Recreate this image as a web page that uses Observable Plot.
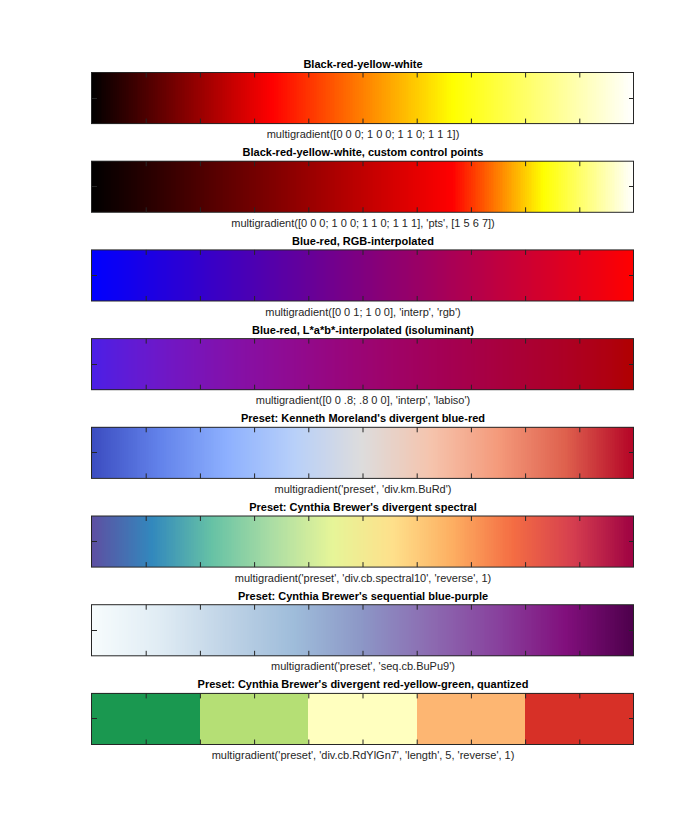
<!DOCTYPE html>
<html>
<head>
<meta charset="utf-8">
<script src="https://cdn.jsdelivr.net/npm/d3@7"></script>
<script src="https://cdn.jsdelivr.net/npm/@observablehq/plot@0.6"></script>
<style>
  html, body { margin: 0; padding: 0; background: #fff; }
</style>
</head>
<body>
<div id="chart"></div>
<script>
// ---- Data -------------------------------------------------------------
const titles = [
  "Black-red-yellow-white",
  "Black-red-yellow-white, custom control points",
  "Blue-red, RGB-interpolated",
  "Blue-red, L*a*b*-interpolated (isoluminant)",
  "Preset: Kenneth Moreland's divergent blue-red",
  "Preset: Cynthia Brewer's divergent spectral",
  "Preset: Cynthia Brewer's sequential blue-purple",
  "Preset: Cynthia Brewer's divergent red-yellow-green, quantized"
];
const captions = [
  "multigradient([0 0 0; 1 0 0; 1 1 0; 1 1 1])",
  "multigradient([0 0 0; 1 0 0; 1 1 0; 1 1 1], 'pts', [1 5 6 7])",
  "multigradient([0 0 1; 1 0 0], 'interp', 'rgb')",
  "multigradient([0 0 .8; .8 0 0], 'interp', 'labiso')",
  "multigradient('preset', 'div.km.BuRd')",
  "multigradient('preset', 'div.cb.spectral10', 'reverse', 1)",
  "multigradient('preset', 'seq.cb.BuPu9')",
  "multigradient('preset', 'div.cb.RdYlGn7', 'length', 5, 'reverse', 1)"
];

const colorsBRYW = ["#000000", "#ff0000", "#ffff00", "#ffffff"];
const ptsEven4 = [1, 2, 3, 4];
const ptsCustom = [1, 5, 6, 7];
const colorsBlueRed = ["#0000ff", "#ff0000"];
const colorsLabIso = ["#4a1fe6", "#b00000"];
const colorsMoreland = ["#3b4cc0", "#6282ea", "#8db0fe", "#b8d0f9", "#dddcdc",
                        "#f5c4ad", "#f49a7b", "#de604d", "#b40426"];
const colorsSpectral10 = ["#9e0142", "#d53e4f", "#f46d43", "#fdae61", "#fee08b",
                          "#e6f598", "#abdda4", "#66c2a5", "#3288bd", "#5e4fa2"];
const colorsBuPu9 = ["#f7fcfd", "#e0ecf4", "#bfd3e6", "#9ebcda", "#8c96c6",
                     "#8c6bb1", "#88419d", "#810f7c", "#4d004b"];
const colorsRdYlGnQ5 = ["#1a9850", "#b5df75", "#ffffbf", "#fdb672", "#d73027"];

const tickValues = [0.1, 0.2, 0.3, 0.4, 0.5, 0.6, 0.7, 0.8, 0.9];

// ---- Gradient specs built from the arrays -------------------------------
const specs = [
  {colors: colorsBRYW, pts: ptsEven4, interp: "rgb"},
  {colors: colorsBRYW, pts: ptsCustom, interp: "rgb"},
  {colors: colorsBlueRed, interp: "rgb"},
  {colors: colorsLabIso, interp: "lab"},
  {colors: colorsMoreland, interp: "rgb"},
  {colors: colorsSpectral10.slice().reverse(), interp: "rgb"},
  {colors: colorsBuPu9, interp: "rgb"},
  {colors: colorsRdYlGnQ5, quantized: true}
];

function makeInterp(colors, pts, mode) {
  const n = colors.length;
  const p = pts || d3.range(n).map(i => i + 1);
  const lo = p[0], hi = p[n - 1];
  const pos = p.map(v => (v - lo) / (hi - lo));
  const f = mode === "lab" ? d3.interpolateLab : d3.interpolateRgb;
  return t => {
    let k = 0;
    while (k < n - 2 && t > pos[k + 1]) k++;
    const u = (t - pos[k]) / (pos[k + 1] - pos[k]);
    return d3.color(f(colors[k], colors[k + 1])(Math.max(0, Math.min(1, u)))).formatHex();
  };
}

const N = 300;
const slices = [];
specs.forEach((s, j) => {
  if (s.quantized) {
    const m = s.colors.length;
    s.colors.forEach((c, i) => slices.push({title: titles[j], x1: i / m, x2: (i + 1) / m, color: c}));
  } else {
    const f = makeInterp(s.colors, s.pts, s.interp);
    for (let i = 0; i < N; i++) {
      slices.push({title: titles[j], x1: i / N, x2: Math.min(1, (i + 1.6) / N), color: f((i + 0.5) / N)});
    }
  }
});

const panelRows = titles.map((t, j) => ({title: t, caption: captions[j]}));
const tickRows = titles.flatMap(t => tickValues.map(v => ({title: t, t: v})));

// ---- Layout -------------------------------------------------------------
const W = 700, H = 840;
const mL = 91.5, mR = 66.5, mT = 72.5, mB = 95.5;
const padInner = 0.424;
const step = (H - mT - mB) / (titles.length - padInner);
const bw = step * (1 - padInner);
const tickLen = 5;
const tickFrac = tickLen / (W - mL - mR);
const ink = "#262626";
const font = "'Liberation Sans', Arial, Helvetica, sans-serif";

const chart = Plot.plot({
  width: W,
  height: H,
  marginLeft: mL,
  marginRight: mR,
  marginTop: mT,
  marginBottom: mB,
  style: {background: "#fff", fontFamily: font},
  x: {domain: [0, 1], axis: null},
  y: {domain: titles, axis: null, paddingInner: padInner, paddingOuter: 0, round: false},
  marks: [
    Plot.barX(slices, {x1: "x1", x2: "x2", y: "title", fill: "color", shapeRendering: "crispEdges"}),
    // inward ticks at top and bottom
    Plot.tickX(tickRows, {x: "t", y: "title", stroke: ink, strokeWidth: 1, insetBottom: bw - tickLen}),
    Plot.tickX(tickRows, {x: "t", y: "title", stroke: ink, strokeWidth: 1, insetTop: bw - tickLen}),
    // inward ticks at left and right middle
    Plot.barX(panelRows, {x1: 0, x2: tickFrac, y: "title", fill: ink,
      insetTop: (bw - 1) / 2, insetBottom: (bw - 1) / 2, shapeRendering: "crispEdges"}),
    Plot.barX(panelRows, {x1: 1 - tickFrac, x2: 1, y: "title", fill: ink,
      insetTop: (bw - 1) / 2, insetBottom: (bw - 1) / 2, shapeRendering: "crispEdges"}),
    // frame
    Plot.barX(panelRows, {x1: 0, x2: 1, y: "title", fill: "none", stroke: ink, strokeWidth: 1}),
    // titles and captions
    Plot.text(panelRows, {x: 0.5, y: "title", text: "title", dy: -(bw / 2 + 9),
      fontWeight: "bold", fontSize: 11, fill: "#000"}),
    Plot.text(panelRows, {x: 0.5, y: "title", text: "caption", dy: bw / 2 + 10.5,
      fontSize: 11, fill: ink})
  ]
});
document.getElementById("chart").appendChild(chart);
</script>
</body>
</html>
